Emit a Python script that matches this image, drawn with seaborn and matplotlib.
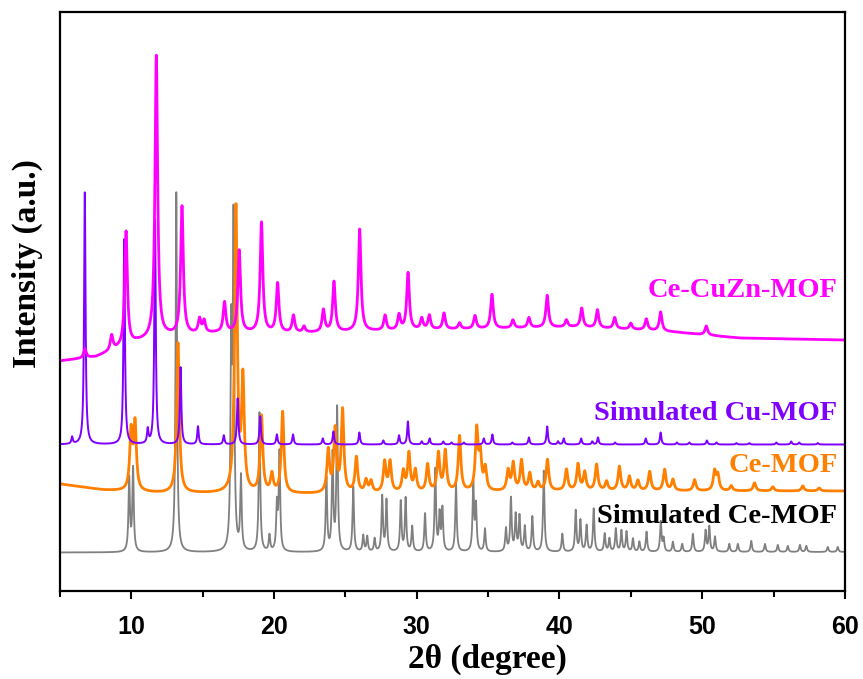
import numpy as np
import pandas as pd
import matplotlib
matplotlib.use("Agg")
import matplotlib.pyplot as plt
import seaborn as sns

# ---------------- data ----------------
# Simulated Ce-MOF : peak positions (2θ) and peak heights (a.u.)
ce_sim_pos = [9.85, 10.12, 13.15, 17.0, 17.16, 17.68, 18.98, 19.68, 20.2, 20.38,
              23.67, 24.1, 24.42, 25.55, 26.25, 26.53, 27.05, 27.58, 27.88, 28.88,
              29.22, 29.68, 30.58, 31.3, 31.6, 31.8, 32.75, 33.96, 34.15, 34.78,
              36.25, 36.6, 36.93, 37.2, 37.57, 38.1, 38.9, 40.2, 41.14, 41.47,
              41.9, 42.4, 43.17, 43.5, 43.95, 44.34, 44.7, 45.15, 45.6, 46.1,
              47.1, 47.3, 47.95, 48.6, 49.35, 50.24, 50.5, 50.9, 51.9, 52.5,
              53.44, 54.4, 55.3, 56.0, 56.85, 57.3, 58.8, 59.5]
ce_sim_int = [73, 83, 360, 208, 321, 73, 139, 16, 45, 98,
              73, 96, 143, 65, 16, 15, 13, 55, 51, 50,
              53, 25, 38, 82, 36, 42, 68, 68, 45, 23,
              23, 53, 36, 35, 25, 35, 81, 18, 41, 31,
              26, 43, 18, 13, 23, 21, 20, 13, 10, 20,
              30, 13, 10, 8, 18, 21, 25, 15, 8, 8,
              11, 8, 7, 6, 7, 6, 5, 5]
ce_sim_base_x = [5, 60]
ce_sim_base_y = [38.5, 39.0]

# Ce-MOF (experimental)
ce_pos = [9.98, 10.26, 13.27, 17.33, 17.82, 19.12, 19.85, 20.6, 23.8, 24.28,
          24.8, 25.77, 26.45, 26.8, 27.75, 28.13, 29.06, 29.45, 29.9, 30.76,
          31.52, 32.0, 33.0, 34.2, 34.45, 34.8, 36.4, 36.76, 37.34, 37.92,
          38.5, 39.16, 40.49, 41.3, 41.77, 42.6, 43.3, 44.2, 44.9, 45.5,
          46.32, 47.37, 47.95, 49.47, 50.87, 51.1, 52.04, 53.67, 54.95, 57.05, 58.2]
ce_int = [58, 66, 150, 284, 110, 76, 18, 81, 42, 62,
          82, 35, 12, 11, 30, 30, 20, 38, 21, 27,
          38, 40, 55, 60, 34, 22, 20, 27, 30, 17,
          8, 31, 21, 26, 18, 26, 9, 24, 14, 10,
          19, 21, 11, 11, 19, 15, 5, 8, 4, 5, 3]
ce_base_x = [5, 8, 12, 23, 40, 60]
ce_base_y = [107, 101, 98, 97, 100, 100]

# Simulated Cu-MOF
cu_sim_pos = [5.85, 6.74, 9.5, 11.15, 11.66, 13.45, 14.67, 16.48, 17.45, 19.03,
              20.2, 21.33, 23.42, 24.16, 25.98, 27.66, 28.76, 29.38, 30.35, 30.9,
              31.86, 32.44, 33.3, 34.7, 35.3, 36.7, 37.86, 39.14, 39.9, 40.3,
              41.52, 42.3, 42.7, 43.9, 46.05, 47.09, 48.23, 49.1, 50.33, 51.0,
              52.4, 53.3, 55.2, 56.24, 56.8, 58.1]
cu_sim_int = [7, 252, 205, 14, 225, 77, 18, 9, 46, 28,
              10, 10, 6, 13, 12, 4, 9, 23, 3, 6,
              3, 2, 2, 6, 10, 2, 7, 18, 3, 6,
              6, 3, 7, 2, 6, 12, 2, 2, 4, 2,
              1.5, 1.5, 2, 3, 2, 1.5]
cu_sim_base_x = [5, 60]
cu_sim_base_y = [146.5, 146.5]

# Ce-CuZn-MOF (experimental)
cezn_pos = [6.75, 8.62, 9.63, 11.75, 13.55, 14.78, 15.1, 16.53, 17.56, 19.12,
            20.25, 21.36, 22.1, 23.46, 24.2, 26.0, 27.78, 28.76, 29.39, 30.35,
            30.88, 31.91, 33.0, 34.08, 35.27, 36.74, 37.86, 39.14, 40.49, 41.56,
            42.66, 43.87, 45.0, 46.09, 47.09, 50.29]
cezn_int = [9, 15, 114, 282, 128, 14, 12, 30, 82, 110,
            49, 17, 6, 22, 50, 102, 15, 15, 57, 11,
            14, 16, 6, 13, 34, 8, 10, 32, 7, 19,
            18, 11, 6, 11, 19, 9]
cezn_base_x = [5, 7.5, 10.4, 12.5, 16, 22, 30, 41, 46, 48, 52.6, 60]
cezn_base_y = [230, 234, 249, 255, 258, 258, 261, 264, 261, 259, 253, 251]

series_names = ["Simulated Ce-MOF", "Ce-MOF", "Simulated Cu-MOF", "Ce-CuZn-MOF"]
series_colors = ["#808080", "#FF8000", "#8000FF", "#FF00FF"]
x_ticks = [10, 20, 30, 40, 50, 60]

# ---------------- build profiles ----------------
two_theta = np.arange(5.0, 60.0001, 0.01)


def profile(pos, heights, fwhm, bx, by):
    g = fwhm / 2.0
    y = np.interp(two_theta, bx, by).astype(float)
    for p, h in zip(pos, heights):
        y += h * g**2 / ((two_theta - p) ** 2 + g**2)
    return y


curves = {
    "Simulated Ce-MOF": profile(ce_sim_pos, ce_sim_int, 0.12, ce_sim_base_x, ce_sim_base_y),
    "Ce-MOF": profile(ce_pos, ce_int, 0.22, ce_base_x, ce_base_y),
    "Simulated Cu-MOF": profile(cu_sim_pos, cu_sim_int, 0.12, cu_sim_base_x, cu_sim_base_y),
    "Ce-CuZn-MOF": profile(cezn_pos, cezn_int, 0.22, cezn_base_x, cezn_base_y),
}

df = pd.concat([pd.DataFrame({"2θ": two_theta, "Intensity": curves[n], "Sample": n})
                for n in series_names], ignore_index=True)

# ---------------- plot ----------------
sns.set_theme(style="white")
plt.rcParams["font.family"] = ["Liberation Serif", "DejaVu Serif"]

fig = plt.figure(figsize=(8.63, 6.79), dpi=100)
ax = fig.add_axes([0.0695, 0.1296, 0.9095, 0.8527])

widths = {"Simulated Ce-MOF": 1.3, "Ce-MOF": 2.0, "Simulated Cu-MOF": 1.4, "Ce-CuZn-MOF": 2.0}
for name, col in zip(series_names, series_colors):
    sns.lineplot(data=df[df["Sample"] == name], x="2θ", y="Intensity", color=col,
                 linewidth=widths[name], estimator=None, sort=False, ax=ax, legend=False)

ax.set_xlim(5, 60)
ax.set_ylim(0, 579)
ax.set_xticks(x_ticks)
ax.set_xticks([5, 15, 25, 35, 45, 55], minor=True)
ax.set_yticks([])
ax.tick_params(axis="x", which="major", direction="out", length=6, width=1.5,
               bottom=True, pad=11, color="black")
ax.tick_params(axis="x", which="minor", direction="out", length=4.5, width=1.5,
               bottom=True, color="black")
for lab in ax.get_xticklabels():
    lab.set_fontfamily(["Liberation Sans Narrow", "Liberation Sans", "DejaVu Sans"])
    lab.set_fontweight("bold")
    lab.set_fontsize(18)
    lab.set_color("black")

for sp in ax.spines.values():
    sp.set_visible(True)
    sp.set_color("black")
    sp.set_linewidth(1.6)

ax.set_xlabel("2θ (degree)", fontsize=24, fontweight="bold", color="black")
ax.xaxis.label.set_va("center")
ax.xaxis.set_label_coords(0.545, -0.118)
ax.set_ylabel("Intensity (a.u.)", fontsize=24, fontweight="bold", color="black")
ax.yaxis.label.set_va("center")
ax.yaxis.set_label_coords(-0.042, 0.565)

label_y = {"Ce-CuZn-MOF": 294, "Simulated Cu-MOF": 171, "Ce-MOF": 119, "Simulated Ce-MOF": 68}
label_col = {"Ce-CuZn-MOF": "#FF00FF", "Simulated Cu-MOF": "#8000FF",
             "Ce-MOF": "#FF8000", "Simulated Ce-MOF": "black"}
for name in series_names:
    ax.text(59.48, label_y[name], name, ha="right", va="baseline", fontsize=20.5,
            fontweight="bold", color=label_col[name])

fig.savefig("out.png", dpi=100)
